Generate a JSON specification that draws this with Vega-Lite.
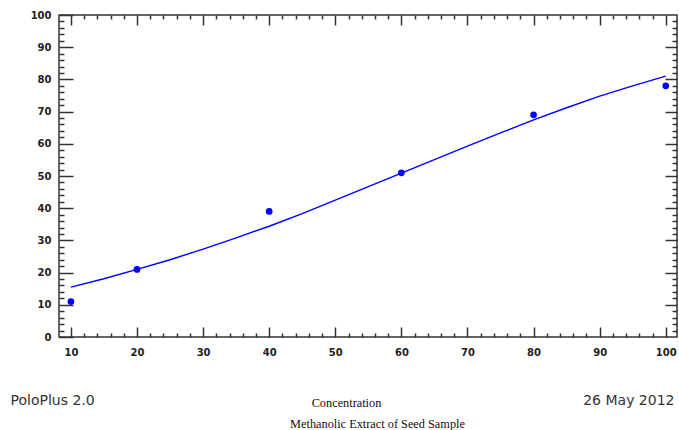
{
  "$schema": "https://vega.github.io/schema/vega-lite/v6.json",
  "width": 618,
  "height": 322,
  "padding": {"left": 59, "top": 15, "right": 2, "bottom": 93},
  "autosize": {"type": "none"},
  "background": "white",
  "config": {
    "view": {"stroke": "#333", "strokeWidth": 1.5},
    "axis": {"domain": false, "grid": false, "tickColor": "#333", "tickWidth": 1.5, "labelFont": "DejaVu Sans", "labelFontWeight": "bold", "labelFontSize": 10, "labelColor": "#222", "titleFontWeight": "normal"}
  },
  "datasets": {
    "obs": [
      {"conc": 10, "resp": 11},
      {"conc": 20, "resp": 21},
      {"conc": 40, "resp": 39},
      {"conc": 60, "resp": 51},
      {"conc": 80, "resp": 69},
      {"conc": 100, "resp": 78}
    ],
    "fit": [
      {"conc": 10, "resp": 15.5}, {"conc": 15, "resp": 18.1}, {"conc": 20, "resp": 21.0},
      {"conc": 25, "resp": 24.0}, {"conc": 30, "resp": 27.3}, {"conc": 35, "resp": 30.8},
      {"conc": 40, "resp": 34.4}, {"conc": 45, "resp": 38.3}, {"conc": 50, "resp": 42.5},
      {"conc": 55, "resp": 46.7}, {"conc": 60, "resp": 50.9}, {"conc": 65, "resp": 55.1},
      {"conc": 70, "resp": 59.3}, {"conc": 75, "resp": 63.4}, {"conc": 80, "resp": 67.4},
      {"conc": 85, "resp": 71.2}, {"conc": 90, "resp": 74.8}, {"conc": 95, "resp": 78.0},
      {"conc": 100, "resp": 81.0}
    ]
  },
  "resolve": {"axis": {"x": "independent", "y": "independent"}},
  "layer": [
    {
      "data": {"name": "fit"},
      "mark": {"type": "line", "color": "#0000ff", "strokeWidth": 1.4},
      "encoding": {
        "x": {"field": "conc", "type": "quantitative", "scale": {"domain": [8.2, 101.7], "nice": false, "zero": false},
              "axis": {"orient": "bottom", "values": [10,20,30,40,50,60,70,80,90,100], "tickSize": -10, "labelPadding": 20,
                       "title": "Concentration", "titleFont": "Liberation Serif", "titleFontSize": 12.3, "titleColor": "#111",
                       "titleX": 287, "titleY": 65, "titleBaseline": "middle", "titleAlign": "center", "titleAnchor": null}},
        "y": {"field": "resp", "type": "quantitative", "scale": {"domain": [0, 100], "nice": false},
              "axis": {"orient": "left", "values": [0,10,20,30,40,50,60,70,80,90,100], "tickSize": -14, "labelPadding": 22, "title": null}}
      }
    },
    {
      "data": {"name": "obs"},
      "mark": {"type": "point", "shape": "circle", "filled": true, "color": "#0000ff", "size": 45, "opacity": 1},
      "encoding": {
        "x": {"field": "conc", "type": "quantitative",
              "axis": {"orient": "bottom", "values": [12,14,16,18,22,24,26,28,32,34,36,38,42,44,46,48,52,54,56,58,62,64,66,68,72,74,76,78,82,84,86,88,92,94,96,98], "tickSize": -4, "labels": false,
                       "title": "PoloPlus 2.0", "titleFont": "DejaVu Sans", "titleFontSize": 14, "titleColor": "#333",
                       "titleX": -49, "titleY": 63, "titleBaseline": "middle", "titleAlign": "left", "titleAnchor": null}},
        "y": {"field": "resp", "type": "quantitative",
              "axis": {"orient": "left", "values": [2,4,6,8,12,14,16,18,22,24,26,28,32,34,36,38,42,44,46,48,52,54,56,58,62,64,66,68,72,74,76,78,82,84,86,88,92,94,96,98], "tickSize": -5, "labels": false, "title": null}}
      }
    },
    {
      "data": {"name": "obs"},
      "mark": {"type": "point", "opacity": 0},
      "encoding": {
        "x": {"field": "conc", "type": "quantitative",
              "axis": {"orient": "top", "values": [10,20,30,40,50,60,70,80,90,100], "tickSize": -10, "labels": false, "title": null}},
        "y": {"field": "resp", "type": "quantitative",
              "axis": {"orient": "right", "values": [10,20,30,40,50,60,70,80,90], "tickSize": -12, "labels": false, "title": null}}
      }
    },
    {
      "data": {"name": "obs"},
      "mark": {"type": "point", "opacity": 0},
      "encoding": {
        "x": {"field": "conc", "type": "quantitative",
              "axis": {"orient": "top", "values": [12,14,16,18,22,24,26,28,32,34,36,38,42,44,46,48,52,54,56,58,62,64,66,68,72,74,76,78,82,84,86,88,92,94,96,98], "tickSize": -4, "labels": false, "title": null}},
        "y": {"field": "resp", "type": "quantitative",
              "axis": {"orient": "right", "values": [2,4,6,8,12,14,16,18,22,24,26,28,32,34,36,38,42,44,46,48,52,54,56,58,62,64,66,68,72,74,76,78,82,84,86,88,92,94,96,98], "tickSize": -5, "labels": false, "title": null}}
      }
    },
    {
      "data": {"name": "obs"},
      "mark": {"type": "point", "opacity": 0},
      "encoding": {
        "x": {"field": "conc", "type": "quantitative",
              "axis": {"orient": "bottom", "ticks": false, "labels": false,
                       "title": "26 May 2012", "titleFont": "DejaVu Sans", "titleFontSize": 14, "titleColor": "#333",
                       "titleX": 615, "titleY": 63, "titleBaseline": "middle", "titleAlign": "right", "titleAnchor": null}},
        "y": {"field": "resp", "type": "quantitative", "axis": null}
      }
    },
    {
      "data": {"name": "obs"},
      "mark": {"type": "point", "opacity": 0},
      "encoding": {
        "x": {"field": "conc", "type": "quantitative",
              "axis": {"orient": "bottom", "ticks": false, "labels": false,
                       "title": "Methanolic Extract of Seed Sample", "titleFont": "Liberation Serif", "titleFontSize": 12.3, "titleColor": "#111",
                       "titleX": 318, "titleY": 86, "titleBaseline": "middle", "titleAlign": "center", "titleAnchor": null}},
        "y": {"field": "resp", "type": "quantitative", "axis": null}
      }
    }
  ]
}
